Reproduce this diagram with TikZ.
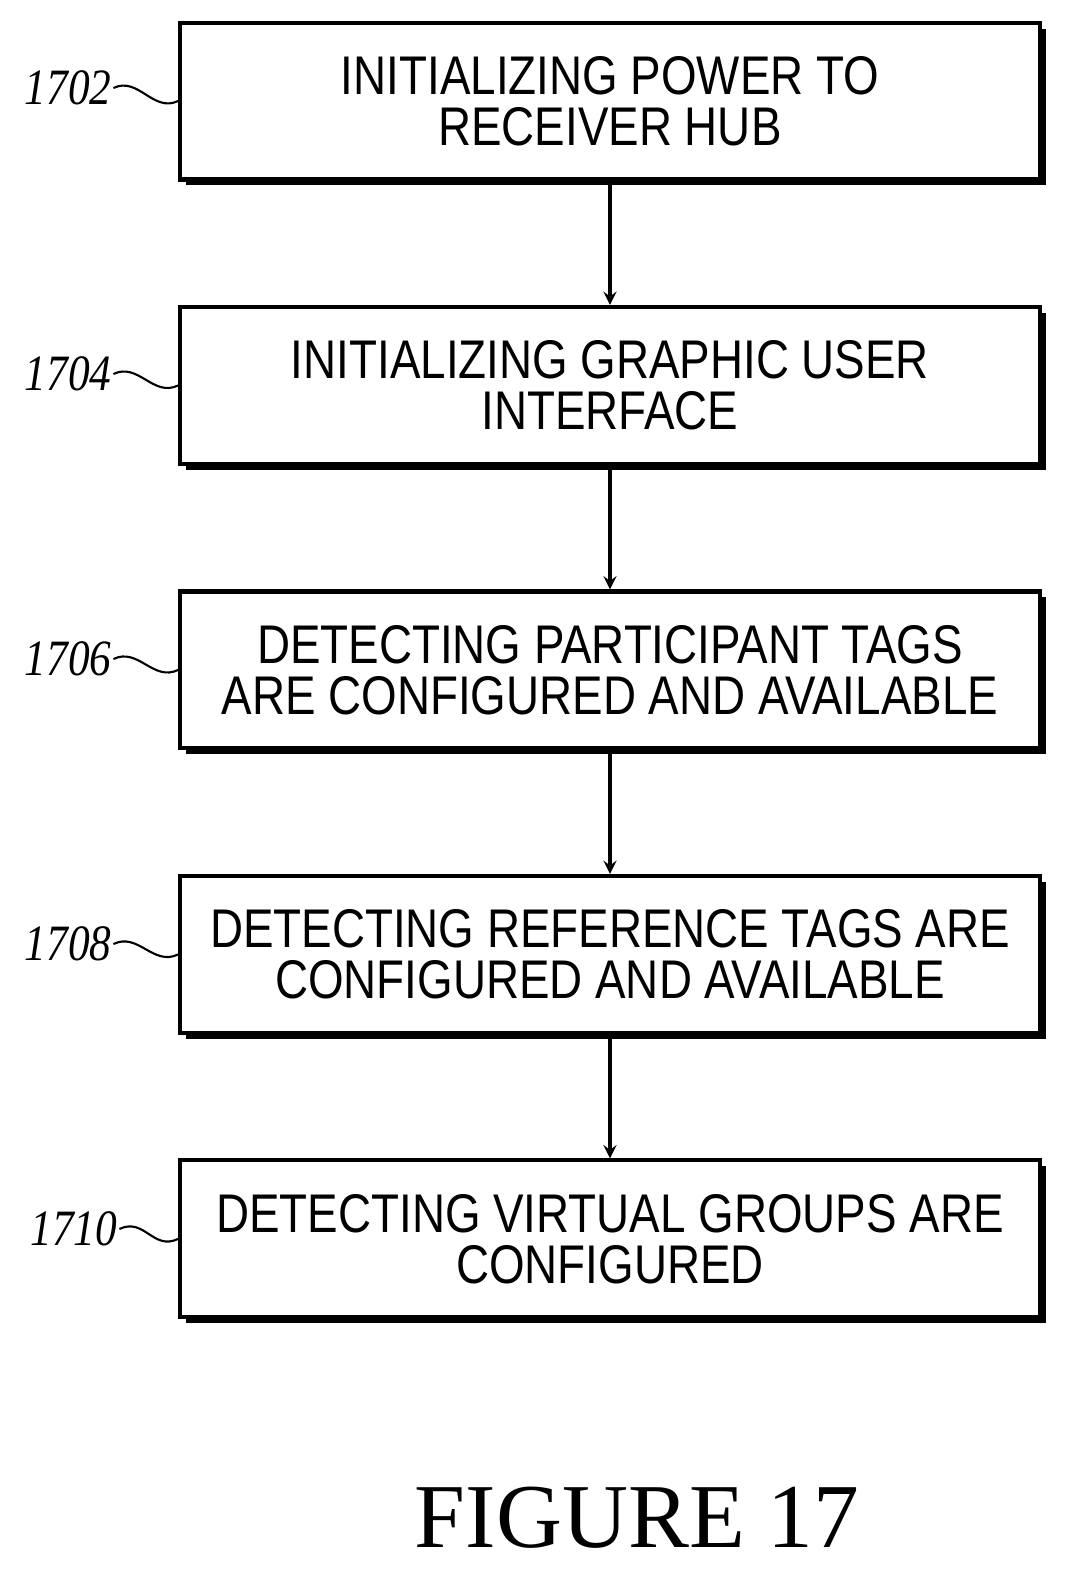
\documentclass[tikz,border=0pt]{standalone}
\usepackage{fontspec}
\setmainfont{Liberation Sans}
\newfontfamily\boxfont[FakeStretch=0.84]{Liberation Sans}
\newfontfamily\reffont[FakeStretch=0.85]{Liberation Serif}
\usetikzlibrary{positioning, shadows}

\begin{document}
\begin{tikzpicture}[x=0.02cm, y=-0.02cm,
    stage/.style = {draw, line width=2.3pt, fill=white, minimum width=17.2cm, minimum height=3.14cm,
        align=center, font=\boxfont\fontsize{31}{29}\selectfont,
        drop shadow={shadow xshift=0.12cm, shadow yshift=-0.12cm, fill=black, opacity=1}},
    num/.style = {font=\reffont\itshape\fontsize{29}{29}\selectfont, inner sep=1pt}]
    \useasboundingbox (0,0) rectangle (1070,1573);
    \node[stage] (1) at (610,101) {INITIALIZING POWER TO\\RECEIVER HUB};
    \node[stage] (2) [below=2.47cm of 1] {INITIALIZING GRAPHIC USER\\INTERFACE};
    \node[stage] (3) [below=2.47cm of 2] {DETECTING PARTICIPANT TAGS\\ARE CONFIGURED AND AVAILABLE};
    \node[stage] (4) [below=2.47cm of 3] {DETECTING REFERENCE TAGS ARE\\CONFIGURED AND AVAILABLE};
    \node[stage] (5) [below=2.47cm of 4] {DETECTING VIRTUAL GROUPS ARE\\CONFIGURED};
    \node[num] (l1) at (68,88) {1702};
    \node[num] (l2) at (68,374) {1704};
    \node[num] (l3) at (68,659) {1706};
    \node[num] (l4) at (68,944) {1708};
    \node[num] (l5) at (74,1229) {1710};
    \foreach \i in {1,...,5}
        \draw[line width=1.2pt] (l\i.east) .. controls +(25,-12) and +(-25,12) .. (\i.west);
    \foreach \a/\b in {1/2, 2/3, 3/4, 4/5}
        \draw[line width=2.3pt, -stealth] (\a) -- (\b);
    \node[font=\fontspec{Liberation Serif}\fontsize{52}{52}\selectfont] (fig) at (637,1518) {FIGURE 17};
\end{tikzpicture}
\end{document}
